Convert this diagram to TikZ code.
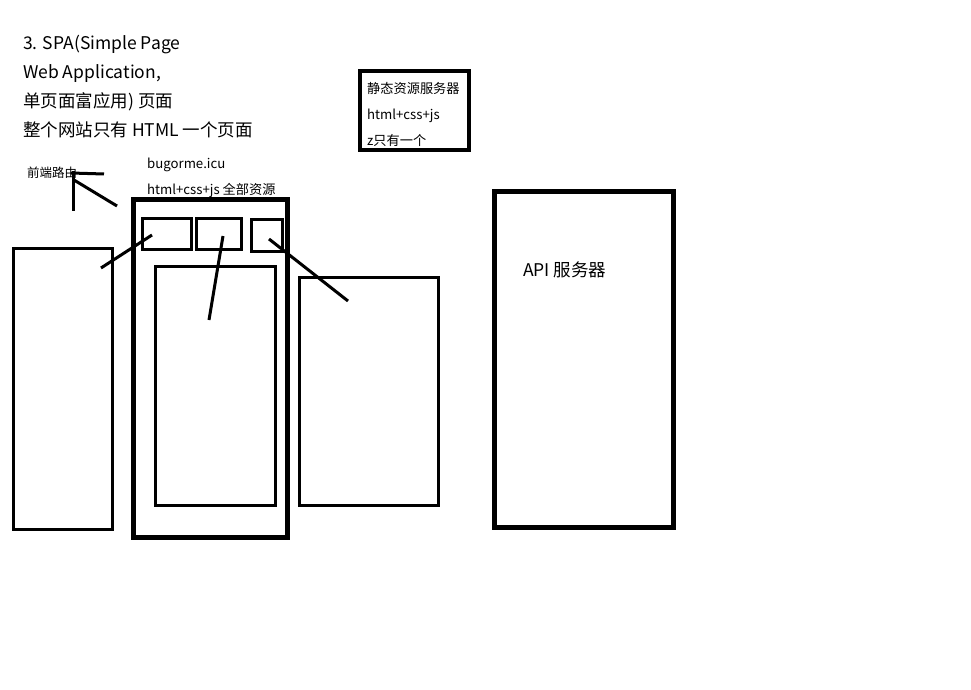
\documentclass[tikz,border=0pt]{standalone}
\usepackage{fontspec}
\setmainfont{Noto Sans CJK SC}
\begin{document}
\begin{tikzpicture}[x=1pt,y=-1pt,
  box/.style={draw=black,line width=#1},
  stroke/.style={draw=black,line width=3pt},
  txt/.style={anchor=base west,inner sep=0pt,text=black},
  big/.style={txt,font=\fontsize{17.5}{18}\selectfont},
  small/.style={txt,font=\fontsize{13.2}{14}\selectfont}]
\useasboundingbox[fill=white] (0,0) rectangle (971,690);
% rectangles
\draw[box=3pt] (13,248) rectangle (112,529);
\draw[box=5pt] (133.5,199.5) rectangle (287.5,537.5);
\draw[box=3pt] (142,218) rectangle (191,249);
\draw[box=3pt] (196,218) rectangle (241,249);
\draw[box=3pt] (251,219) rectangle (282,251);
\draw[box=3pt] (155,266) rectangle (275,505);
\draw[box=3pt] (299,277) rectangle (438,505);
\draw[box=5pt] (494.5,191.5) rectangle (673.5,527);
\draw[box=4pt] (360,71) rectangle (469,150);
% named coordinates
\coordinate (h1) at (71,173);
\coordinate (h2) at (104,174);
\coordinate (v1) at (73,171);
\coordinate (v2) at (73,211);
\coordinate (d1) at (74,180);
\coordinate (d2) at (117,206);
\coordinate (a1) at (152,235);
\coordinate (a2) at (101,268);
\coordinate (b1) at (223,236);
\coordinate (b2) at (209,320);
\coordinate (c1) at (269,239);
\coordinate (c2) at (348,301);
\draw[stroke] (h1) -- (h2);
\draw[stroke] (v1) -- (v2);
\draw[stroke] (d1) -- (d2);
\draw[stroke] (a1) -- (a2);
\draw[stroke] (b1) -- (b2);
\draw[stroke] (c1) -- (c2);
% texts
\node[big] (t1) at (23,50) {3. SPA(Simple Page};
\node[big] (t2) at (23,79) {Web Application,};
\node[big] (t3) at (23,107) {单页面富应用) 页面};
\node[big] (t4) at (23,136) {整个网站只有 HTML 一个页面};
\node[txt,font=\fontsize{12.5}{13}\selectfont] (fr) at (27,177) {前端路由};
\node[small] (dom) at (147,168) {bugorme.icu};
\node[small] (res) at (147,194) {html+css+js 全部资源};
\node[small] (s1) at (367,94) {静态资源服务器};
\node[small] (s2) at (367,120) {html+css+js};
\node[small] (s3) at (367,145) {z只有一个};
\node[big] (api) at (523,276) {API 服务器};
\end{tikzpicture}
\end{document}
